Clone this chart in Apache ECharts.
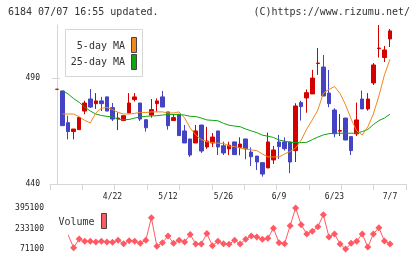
<!DOCTYPE html>
<html>
<head>
<meta charset="utf-8">
<script src="https://cdn.jsdelivr.net/npm/echarts@6/dist/echarts.min.js"></script>
<style>
html, body { margin: 0; padding: 0; background: #fff; }
#chart { width: 420px; height: 259px; }
</style>
</head>
<body>
<div id="chart"></div>
<script>
// trading days (only every 10th one is labelled)
const dates = [
  '4/8','4/9','4/10','4/11','4/14','4/15','4/16','4/17','4/18','4/21',
  '4/22','4/24','4/25','4/28','4/30','5/1','5/2','5/7','5/8','5/9',
  '5/12','5/13','5/14','5/15','5/16','5/19','5/20','5/21','5/22','5/23',
  '5/26','5/27','5/28','5/29','5/30','6/2','6/3','6/4','6/5','6/6',
  '6/9','6/10','6/11','6/12','6/13','6/16','6/17','6/18','6/19','6/20',
  '6/23','6/24','6/25','6/26','6/27','6/30','7/1','7/2','7/3','7/4',
  '7/7'
]
const openP = [
  484.8,484.0,469.0,464.8,465.7,474.5,480.2,478.0,479.3,481.2,
  476.1,470.8,470.0,473.6,479.9,478.3,470.4,472.6,478.0,481.2,
  474.1,470.0,473.0,465.1,461.3,459.4,467.9,457.5,459.4,465.1,
  458.1,456.6,459.9,457.3,461.3,455.1,453.2,450.1,447.6,451.4,
  459.9,459.9,459.9,455.8,478.5,480.7,482.6,497.0,495.3,483.0,
  475.0,465.0,471.2,462.4,463.7,480.2,475.5,487.8,504.0,499.8,
  508.6
]
const closeP = [
  484.8,467.6,464.8,466.0,471.4,478.3,476.4,479.3,478.0,474.5,
  470.7,471.2,472.3,478.3,481.2,470.7,466.6,475.2,479.3,476.4,
  467.6,471.4,462.9,459.4,453.7,465.1,455.6,460.3,462.2,457.5,
  454.7,458.4,453.9,458.9,456.6,452.9,450.4,444.7,459.9,456.1,
  457.7,456.7,450.4,476.9,476.6,483.2,490.1,497.2,481.6,478.0,
  463.8,465.3,460.8,455.8,470.3,475.5,480.2,496.3,504.3,503.4,
  512.4
]
const lowP = [
  484.8,467.6,461.1,461.1,465.7,473.0,476.0,475.5,474.5,474.5,
  469.8,465.5,470.0,473.6,479.0,469.8,464.8,471.4,474.2,476.4,
  465.7,470.0,462.9,459.4,452.8,459.4,454.7,456.6,457.5,453.7,
  453.7,453.7,453.9,453.6,451.7,448.5,446.6,443.5,447.6,449.5,
  451.8,455.8,445.1,450.4,470.0,473.7,482.6,491.6,481.6,476.3,
  462.1,462.7,460.8,453.7,462.7,475.5,474.7,486.8,499.8,497.7,
  504.8
]
const highP = [
  484.8,484.0,472.3,466.0,472.0,479.4,484.9,483.0,481.2,481.2,
  478.3,473.9,472.3,483.0,483.0,478.3,470.4,480.2,480.5,484.0,
  474.1,473.0,473.0,467.9,461.3,467.9,467.9,467.0,464.1,465.1,
  460.0,460.0,459.9,462.1,461.3,457.3,453.2,450.1,464.3,458.0,
  463.2,462.1,459.9,478.2,479.4,484.7,494.0,504.3,501.0,493.9,
  475.8,473.1,471.2,462.4,478.5,484.2,483.0,497.2,515.2,505.3,
  513.3
]
const ma5 = [
  null,473.1,473.1,473.1,471.8,470.1,468.9,473.6,475.8,476.2,
  475.2,473.9,473.1,473.1,473.4,473.9,473.8,474.1,474.1,474.1,
  473.6,473.6,474.1,471.2,466.5,463.2,461.0,460.0,459.6,459.3,
  459.2,458.0,457.7,457.0,456.6,456.1,455.8,454.2,452.8,452.8,
  452.8,454.2,455.4,457.0,460.8,466.0,470.3,475.0,483.0,484.7,
  486.1,482.8,477.4,470.7,465.1,463.2,467.0,473.1,481.6,491.6,
  499.0
]
const ma25 = [
  null,484.2,482.6,480.4,478.6,476.4,474.5,473.1,472.4,472.0,
  471.7,470.7,470.4,470.5,471.2,471.7,472.0,472.2,472.3,472.6,
  472.9,472.9,472.9,472.6,472.0,471.9,471.2,470.3,470.1,469.9,
  468.7,467.8,467.4,467.1,466.0,465.1,464.3,463.1,462.6,462.0,
  460.8,460.3,459.7,459.6,459.6,459.7,461.0,462.2,463.2,463.8,
  464.0,464.0,464.0,464.0,464.0,464.8,465.8,468.1,470.0,471.2,
  473.0
]
const volume = [
  150000,130000,183000,81400,150700,132400,132400,126800,132400,126800,
  124400,140400,113300,137200,132400,116500,140400,317900,92600,121300,
  174600,116500,140400,126800,185000,110900,110900,192900,97400,132400,
  113300,108500,140400,110900,148300,174600,166600,148300,156300,235900,
  121300,113300,254200,395100,262200,190500,212000,246200,341800,166600,
  190500,110900,71100,116500,132400,190500,87000,190500,238300,134800,
  110900
]
const priceTicks = [440, 490]
const volumeTicks = [71100, 233100, 395100]
const dateLabelIdx = [10, 20, 30, 40, 50, 60]

const mono = 'DejaVu Sans Mono'
const axisGrey = '#d6d6d6'
const upRed = '#d40000'
const downBlue = '#4343c4'
const maOrange = '#f0891a'
const maGreen = '#12a312'
const volRed = '#ff5a64'

const xMin = -1.261, xMax = 62.883

const candles = dates.map((d, i) => [i, openP[i], closeP[i], lowP[i], highP[i]])
const toLine = arr => arr.map((v, i) => [i, v == null ? '-' : v])

const chart = echarts.init(document.getElementById('chart'))
chart.setOption({
  animation: false,
  backgroundColor: '#fff',
  title: [
    { text: '6184 07/07 16:55 updated.', left: 3, top: 2,
      textStyle: { fontFamily: mono, fontSize: 10, fontWeight: 'normal', color: '#333' } },
    { text: '(C)https://www.rizumu.net/', right: 5, top: 2,
      textStyle: { fontFamily: mono, fontSize: 10, fontWeight: 'normal', color: '#333' } }
  ],
  grid: [
    { left: 50, right: 14, top: 25, height: 159 },
    { left: 69, right: 14, top: 208, height: 41 }
  ],
  xAxis: [
    { type: 'value', gridIndex: 0, position: 'bottom', min: xMin, max: xMax, interval: (xMax - xMin) / 11,
      axisLine: { lineStyle: { color: axisGrey } },
      axisTick: { length: 6, lineStyle: { color: axisGrey } },
      axisLabel: { show: false }, splitLine: { show: false } },
    { type: 'value', gridIndex: 0, position: 'bottom', offset: 0, min: xMin, max: xMax,
      axisLine: { show: false }, axisTick: { show: false }, splitLine: { show: false },
      axisLabel: { customValues: dateLabelIdx, formatter: v => dates[v], margin: 9,
        fontFamily: mono, fontSize: 8, color: '#222' } },
    { type: 'value', gridIndex: 1, min: 2.162, max: xMax, show: false }
  ],
  yAxis: [
    { type: 'value', gridIndex: 0, position: 'left', min: 440, max: 515.2,
      axisLine: { show: true, lineStyle: { color: axisGrey } },
      axisTick: { show: true, length: 5, customValues: priceTicks, lineStyle: { color: axisGrey } },
      axisLabel: { customValues: priceTicks, margin: 10, fontFamily: mono, fontSize: 8, color: '#222' },
      splitLine: { show: false } },
    { type: 'value', gridIndex: 0, position: 'left', offset: 0, min: 440, max: 515.2,
      axisLine: { show: false },
      axisTick: { show: true, inside: true, length: 3, customValues: priceTicks, lineStyle: { color: axisGrey } },
      axisLabel: { show: false }, splitLine: { show: false } },
    { type: 'value', gridIndex: 1, min: 71100, max: 395100,
      axisLine: { show: false }, axisTick: { show: false }, splitLine: { show: false },
      axisLabel: { customValues: volumeTicks, formatter: v => String(v), margin: 25,
        fontFamily: mono, fontSize: 8, color: '#222' } }
  ],
  graphic: [
    { type: 'rect', shape: { x: 65.5, y: 29.5, width: 77, height: 47 },
      style: { fill: '#fff', stroke: '#d6d6d6', lineWidth: 1 }, z: 10 },
    { type: 'text', z: 11, style: { text: '5-day MA', x: 125, y: 46, align: 'right', verticalAlign: 'middle',
      font: '10px "DejaVu Sans Mono"', fill: '#333' } },
    { type: 'text', z: 11, style: { text: '25-day MA', x: 125, y: 62.5, align: 'right', verticalAlign: 'middle',
      font: '10px "DejaVu Sans Mono"', fill: '#333' } },
    { type: 'rect', z: 11, shape: { x: 131.5, y: 37.5, width: 5, height: 15 },
      style: { fill: maOrange, stroke: '#444', lineWidth: 1 } },
    { type: 'rect', z: 11, shape: { x: 131.5, y: 54.5, width: 5, height: 15 },
      style: { fill: maGreen, stroke: '#444', lineWidth: 1 } },
    { type: 'text', z: 11, style: { text: 'Volume', x: 58.5, y: 222.5, align: 'left', verticalAlign: 'middle',
      font: '10px "DejaVu Sans Mono"', fill: '#333' } },
    { type: 'rect', z: 11, shape: { x: 101.5, y: 213.5, width: 5, height: 15 },
      style: { fill: volRed, stroke: '#444', lineWidth: 1 } }
  ],
  series: [
    { name: 'Price', type: 'candlestick', xAxisIndex: 0, yAxisIndex: 0, barWidth: 4,
      itemStyle: { color: upRed, color0: downBlue, borderColor: upRed, borderColor0: downBlue, borderWidth: 1 },
      data: candles, z: 2 },
    { name: '25-day MA', type: 'line', xAxisIndex: 0, yAxisIndex: 0, symbol: 'none',
      lineStyle: { color: maGreen, width: 1 }, itemStyle: { color: maGreen },
      data: toLine(ma25), z: 3 },
    { name: '5-day MA', type: 'line', xAxisIndex: 0, yAxisIndex: 0, symbol: 'none',
      lineStyle: { color: maOrange, width: 1 }, itemStyle: { color: maOrange },
      data: toLine(ma5), z: 3 },
    { name: 'Volume', type: 'line', xAxisIndex: 2, yAxisIndex: 2, clip: true,
      symbol: 'diamond', symbolSize: 7,
      lineStyle: { color: volRed, width: 1 }, itemStyle: { color: volRed },
      data: toLine(volume) }
  ]
})
</script>
</body>
</html>
